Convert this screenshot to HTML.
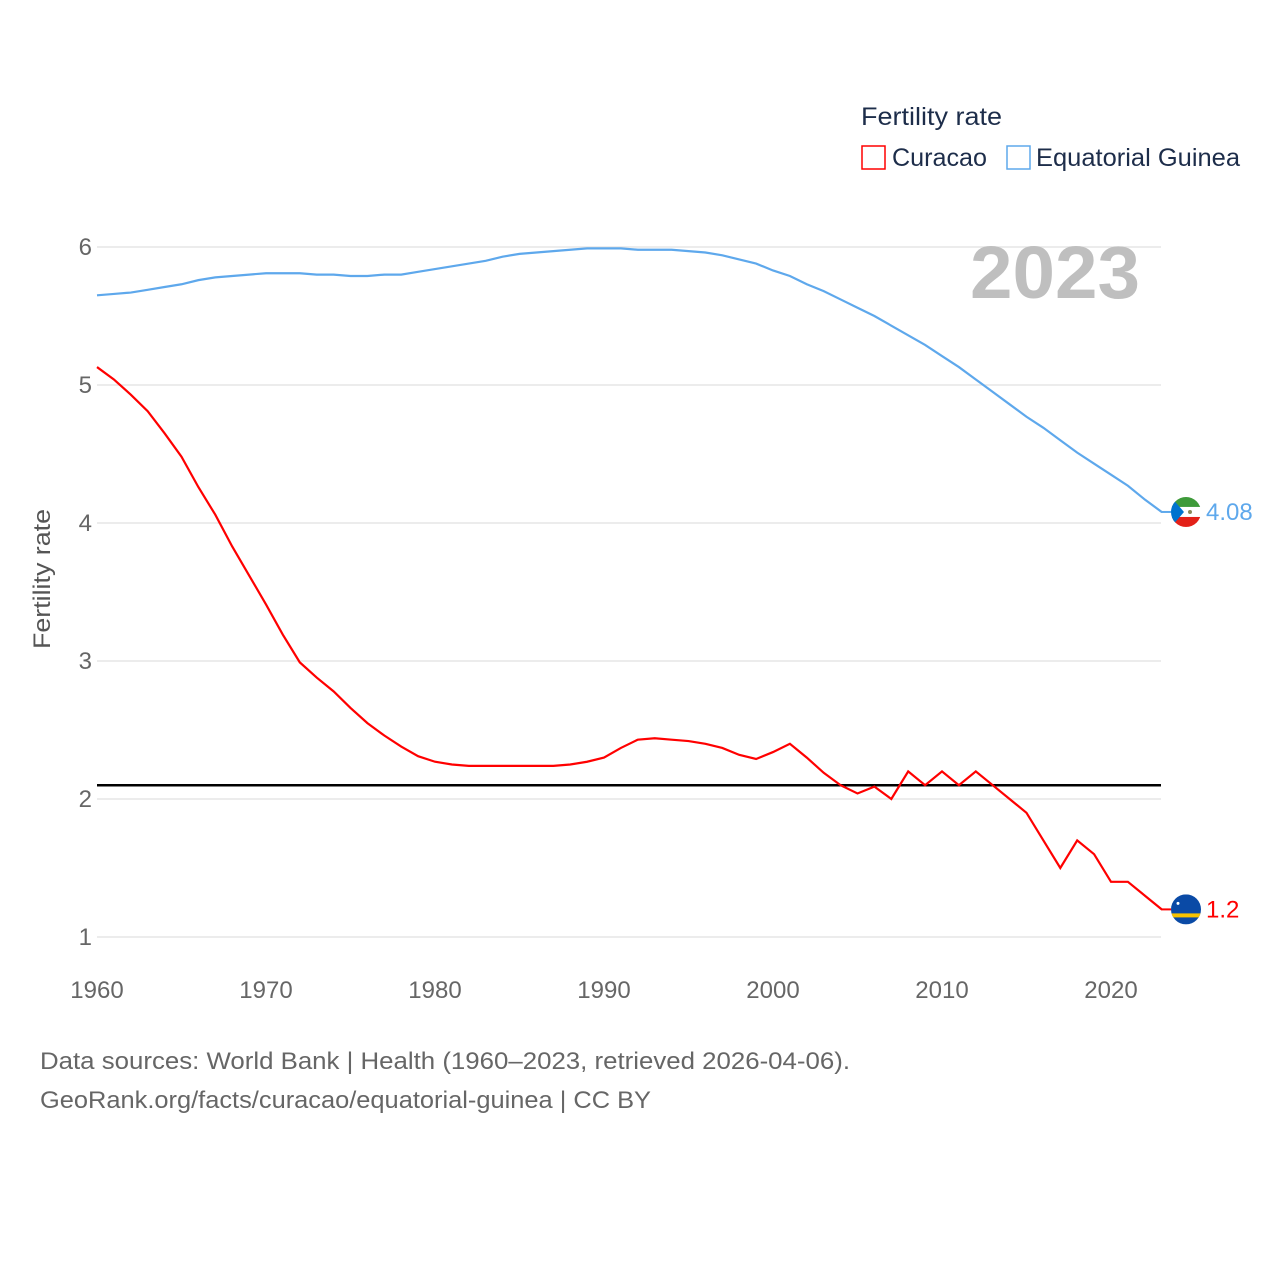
<!DOCTYPE html>
<html><head><meta charset="utf-8"><style>
body{margin:0;background:#fff;font-family:"Liberation Sans",sans-serif;}
svg text{font-family:"Liberation Sans",sans-serif;}
</style></head><body>
<svg id="chart" width="1280" height="1280" viewBox="0 0 1280 1280" xmlns="http://www.w3.org/2000/svg">
<rect width="1280" height="1280" fill="#fff"/>
<defs><clipPath id="fc1"><circle cx="1186" cy="0" r="15"/></clipPath></defs>
<g id="grid"></g>
<g id="ticks"></g>
<text transform="translate(50,579) rotate(-90)" text-anchor="middle" font-size="24" fill="#555" textLength="140" lengthAdjust="spacingAndGlyphs">Fertility rate</text>
<text x="1140" y="298" text-anchor="end" font-size="74" font-weight="bold" fill="#bfbfbf" textLength="170" lengthAdjust="spacingAndGlyphs">2023</text>
<g id="series"></g>
<g>
<text x="861" y="125" font-size="25" fill="#1d2d4a" textLength="141" lengthAdjust="spacingAndGlyphs">Fertility rate</text>
<rect x="862" y="146" width="23" height="23" fill="none" stroke="#f00" stroke-width="1.5"/>
<text x="892" y="166" font-size="25" fill="#1d2d4a" textLength="95" lengthAdjust="spacingAndGlyphs">Curacao</text>
<rect x="1007" y="146" width="23" height="23" fill="none" stroke="#5ea8ec" stroke-width="1.5"/>
<text x="1036" y="166" font-size="25" fill="#1d2d4a" textLength="204" lengthAdjust="spacingAndGlyphs">Equatorial Guinea</text>
</g>
<text x="40" y="1069" font-size="24" fill="#666" textLength="810" lengthAdjust="spacingAndGlyphs">Data sources: World Bank | Health (1960–2023, retrieved 2026-04-06).</text>
<text x="40" y="1108" font-size="24" fill="#666" textLength="611" lengthAdjust="spacingAndGlyphs">GeoRank.org/facts/curacao/equatorial-guinea | CC BY</text>
</svg>
<script>
const years=[];for(let y=1960;y<=2023;y++)years.push(y);
const curacao=[5.13,5.04,4.93,4.81,4.65,4.48,4.26,4.06,3.83,3.62,3.41,3.19,2.99,2.88,2.78,2.66,2.55,2.46,2.38,2.31,2.27,2.25,2.24,2.24,2.24,2.24,2.24,2.24,2.25,2.27,2.30,2.37,2.43,2.44,2.43,2.42,2.40,2.37,2.32,2.29,2.34,2.40,2.30,2.19,2.10,2.04,2.09,2.00,2.20,2.10,2.20,2.10,2.20,2.10,2.00,1.90,1.70,1.50,1.70,1.60,1.40,1.40,1.30,1.20];
const eqGuinea=[5.65,5.66,5.67,5.69,5.71,5.73,5.76,5.78,5.79,5.80,5.81,5.81,5.81,5.80,5.80,5.79,5.79,5.80,5.80,5.82,5.84,5.86,5.88,5.90,5.93,5.95,5.96,5.97,5.98,5.99,5.99,5.99,5.98,5.98,5.98,5.97,5.96,5.94,5.91,5.88,5.83,5.79,5.73,5.68,5.62,5.56,5.50,5.43,5.36,5.29,5.21,5.13,5.04,4.95,4.86,4.77,4.69,4.60,4.51,4.43,4.35,4.27,4.17,4.08];
const yTicks=[1,2,3,4,5,6];
const xTicks=[1960,1970,1980,1990,2000,2010,2020];
const replacement=[2.1];
const NS="http://www.w3.org/2000/svg";
const X=y=>97+(y-1960)*(1111-97)/60;
const Y=v=>937-(v-1)*138;
function mk(t,a,p){const e=document.createElementNS(NS,t);for(const k in a)e.setAttribute(k,a[k]);p.appendChild(e);return e;}
const grid=document.getElementById('grid'),ticks=document.getElementById('ticks'),ser=document.getElementById('series');
yTicks.forEach(v=>{
 const l=mk('line',{x1:97,x2:1161,y1:Y(v),y2:Y(v),stroke:'#e6e6e6','stroke-width':1.5},grid);
 
 
 const t=mk('text',{x:92,y:Y(v)+8,'text-anchor':'end','font-size':24,fill:'#666'},ticks);t.textContent=v;
 
 
});
xTicks.forEach(v=>{
 const t=mk('text',{x:X(v),y:998,'text-anchor':'middle','font-size':24,fill:'#666'},ticks);t.textContent=v;
 
 
});
replacement.forEach(v=>{
 const l=mk('line',{x1:97,x2:1161,y1:Y(v),y2:Y(v),stroke:'#000','stroke-width':2.5},ser);
 
 
});
function line(data,color,name){
 const p=mk('polyline',{points:data.map((v,i)=>X(years[i])+','+Y(v)).join(' '),fill:'none',stroke:color,'stroke-width':2.2},ser);
 
 
}
line(eqGuinea,'#5ea8ec','line-equatorial-guinea');
line(curacao,'#f00','line-curacao');
function endLabel(data,color,name,label,kind){
 const v=data[data.length-1],cy=Y(v),cx=1186;
 mk('line',{x1:1161,x2:1171,y1:cy,y2:cy,stroke:color,'stroke-width':2},ser);
 const g=mk('g',{transform:'translate(0,'+cy+')'},ser);
 
 
 const c=mk('g',{'clip-path':'url(#fc1)'},g);
 if(kind==='gq'){
  mk('rect',{x:cx-15,y:-15,width:30,height:10,fill:'#3e9a3a'},c);
  mk('rect',{x:cx-15,y:-5,width:30,height:10,fill:'#fff'},c);
  mk('rect',{x:cx-15,y:5,width:30,height:10,fill:'#e32118'},c);
  mk('polygon',{points:(cx-15)+',-15 '+(cx-2)+',0 '+(cx-15)+',15',fill:'#0073ce'},c);
  mk('circle',{cx:cx+4,cy:0,r:2,fill:'#8a8a5a'},c);
 }else{
  mk('rect',{x:cx-15,y:-15,width:30,height:30,fill:'#0a4aa6'},c);
  mk('rect',{x:cx-15,y:4,width:30,height:4,fill:'#f8c300'},c);
  mk('circle',{cx:cx-8,cy:-6,r:1.5,fill:'#fff'},c);
 }
 const t=mk('text',{x:1206,y:cy+8,'font-size':24,fill:color},ser);t.textContent=label;
 
 
}
endLabel(eqGuinea,'#5ea8ec','equatorial-guinea','4.08','gq');
endLabel(curacao,'#f00','curacao','1.2','cw');
</script>
</body></html>
